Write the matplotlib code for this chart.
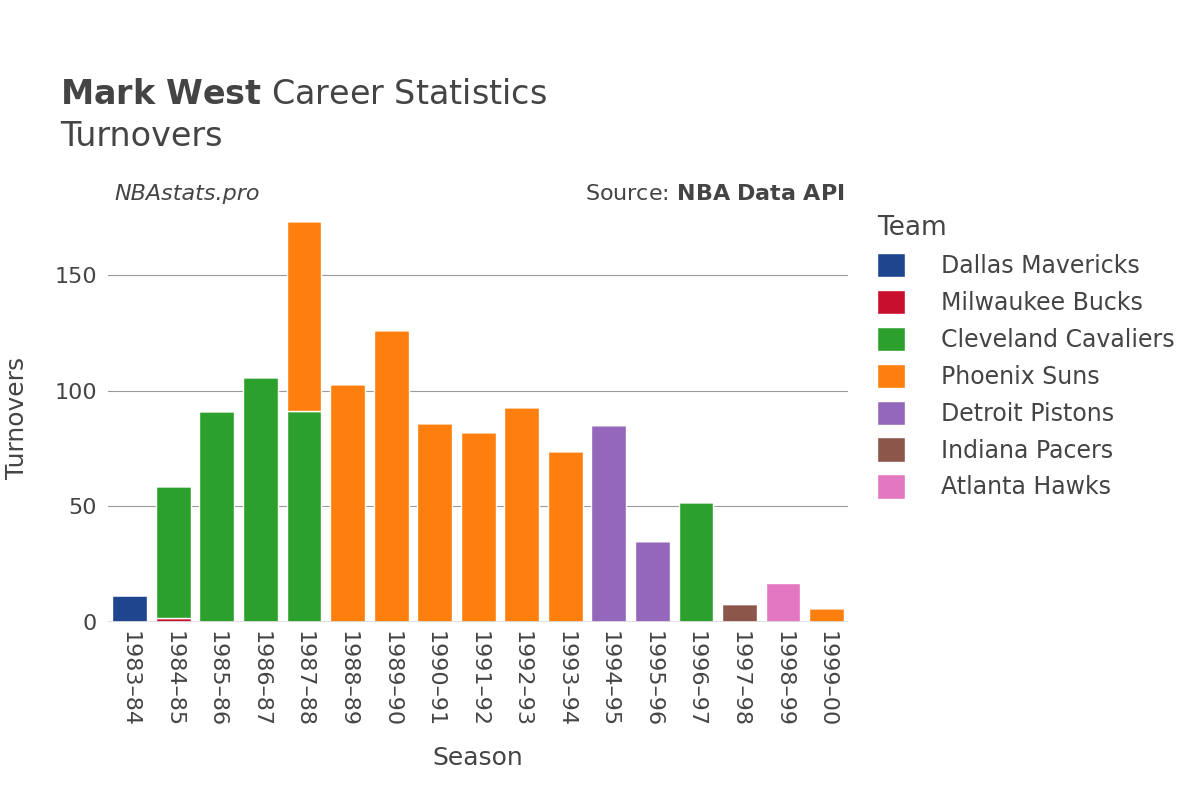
import matplotlib.pyplot as plt
import numpy as np

seasons = ['1983–84', '1984–85', '1985–86', '1986–87', '1987–88', '1988–89', '1989–90',
           '1990–91', '1991–92', '1992–93', '1993–94', '1994–95', '1995–96', '1996–97',
           '1997–98', '1998–99', '1999–00']
teams = ['Dallas Mavericks', 'Milwaukee Bucks', 'Cleveland Cavaliers', 'Phoenix Suns',
         'Detroit Pistons', 'Indiana Pacers', 'Atlanta Hawks']
colors = ['#1f458e', '#c8102e', '#2ca02c', '#ff7f0e', '#9467bd', '#8c564b', '#e377c2']

dallas = [12, 0, 0, 0, 0, 0, 0, 0, 0, 0, 0, 0, 0, 0, 0, 0, 0]
milwaukee = [0, 2, 0, 0, 0, 0, 0, 0, 0, 0, 0, 0, 0, 0, 0, 0, 0]
cleveland = [0, 57, 91, 106, 91, 0, 0, 0, 0, 0, 0, 0, 0, 52, 0, 0, 0]
phoenix = [0, 0, 0, 0, 82, 103, 126, 86, 82, 93, 74, 0, 0, 0, 0, 0, 6]
detroit = [0, 0, 0, 0, 0, 0, 0, 0, 0, 0, 0, 85, 35, 0, 0, 0, 0]
indiana = [0, 0, 0, 0, 0, 0, 0, 0, 0, 0, 0, 0, 0, 0, 8, 0, 0]
atlanta = [0, 0, 0, 0, 0, 0, 0, 0, 0, 0, 0, 0, 0, 0, 0, 17, 0]
series = [dallas, milwaukee, cleveland, phoenix, detroit, indiana, atlanta]

fig = plt.figure(figsize=(12, 8), dpi=100)
ax = fig.add_axes([0.09, 0.222, 0.617, 0.51])
x = np.arange(len(seasons))
bottom = np.zeros(len(seasons))
for name, vals, c in zip(teams, series, colors):
    v = np.array(vals, dtype=float)
    ax.bar(x, v, bottom=bottom, width=0.8, color=c, label=name, edgecolor='white', linewidth=1)
    bottom += v

ax.set_xlim(-0.5, len(seasons) - 0.5)
ax.set_ylim(0, 176)
ax.set_yticks([0, 50, 100, 150])
ax.set_xticks(x)
ax.set_xticklabels(seasons, rotation=-90, fontsize=16, color='#444')
ax.tick_params(axis='y', labelsize=16, colors='#444', length=0, pad=8)
ax.tick_params(axis='x', length=0, pad=6)
ax.grid(axis='y', color='#999', linewidth=0.8)
ax.set_axisbelow(True)
for s in ax.spines.values():
    s.set_visible(False)
ax.axhline(0, color='#ddd', linewidth=2)
ax.set_xlabel('Season', fontsize=18, color='#444', labelpad=14)
ax.set_ylabel('Turnovers', fontsize=18, color='#444', labelpad=18)

fig.text(0.05, 0.87, r'$\bf{Mark\ West}$ Career Statistics', fontsize=24, color='#444')
fig.text(0.05, 0.817, 'Turnovers', fontsize=24, color='#444')
fig.text(0.095, 0.75, 'NBAstats.pro', fontsize=16, style='italic', color='#444')
fig.text(0.704, 0.75, r'Source: $\bf{NBA\ Data\ API}$', fontsize=16, color='#444', ha='right')

leg = ax.legend(loc='upper left', bbox_to_anchor=(1.01, 1.05), frameon=False, fontsize=17,
                title='Team', title_fontsize=19, labelspacing=0.5, handlelength=1.2,
                handleheight=1.2, handletextpad=1.5)
leg._legend_box.align = 'left'
for t in leg.get_texts():
    t.set_color('#444')
leg.get_title().set_color('#444')

fig.savefig('out.png')
